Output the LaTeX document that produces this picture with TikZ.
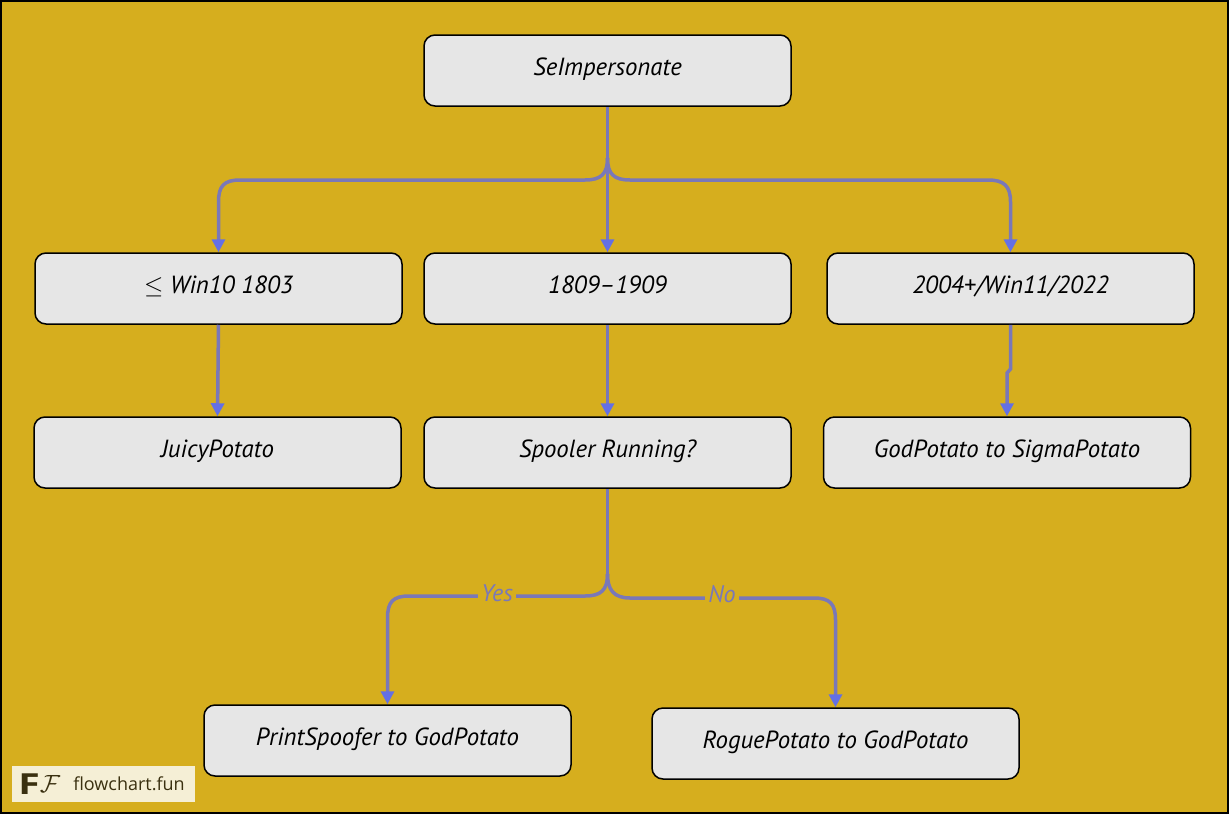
\documentclass[tikz,border=0pt]{standalone}
\usepackage{fontspec}
\usepackage{amsmath}
\setmainfont{PT Sans}
\newfontfamily\logofont{Open Sans}
\usetikzlibrary{arrows.meta}
\definecolor{bgyellow}{HTML}{D6AE1E}
\definecolor{boxgrey}{HTML}{E6E6E6}
\definecolor{edgeblue}{HTML}{7A78B8}
\definecolor{tipblue}{HTML}{6470E4}
\definecolor{logocream}{HTML}{F5EFD6}
\definecolor{logoink}{HTML}{3A3010}
\tikzset{
  box/.style={draw=black,line width=1.5pt,fill=boxgrey,rounded corners=11pt,minimum width=367pt,minimum height=71pt,inner sep=0pt,text height=16.5pt,text depth=7.5pt,font=\fontsize{24.8}{28}\selectfont\itshape},
  edge/.style={draw=edgeblue,line width=3.5pt,-{Triangle[width=13pt,length=13pt,color=tipblue]}},
  plainedge/.style={draw=edgeblue,line width=3.5pt},
  edgelabel/.style={fill=bgyellow,text=edgeblue,inner sep=3pt,font=\fontsize{24}{26}\selectfont\itshape}
}
\begin{document}
\begin{tikzpicture}[x=1pt,y=-1pt]
        \useasboundingbox (0,0) rectangle (1229,814);
        \draw[black,line width=2.5pt,fill=bgyellow] (1,1) rectangle (1228,813);
        \node[box] (root) at (607.5,70.5) {SeImpersonate};
        \node[box] (low) at (218.5,288.5) {$\leq$ Win10 1803};
        \node[box] (mid) at (607.5,288.5) {1809--1909};
        \node[box] (high) at (1010.5,288.5) {2004+/Win11/2022};
        \node[box] (juicy) at (217.5,452.5) {JuicyPotato};
        \node[box] (spooler) at (607.5,452.5) {Spooler Running?};
        \node[box] (god) at (1007,452.5) {GodPotato to SigmaPotato};
        \node[box] (print) at (387.5,740.5) {PrintSpoofer to GodPotato};
        \node[box] (rogue) at (835.5,743.5) {RoguePotato to GodPotato};
        \node[fill=logocream,minimum width=183pt,minimum height=36pt,inner sep=0pt] (logo) at (103.5,784) {};
        \node[text=logoink,inner sep=0pt,xscale=1.35,font=\fontsize{29}{30}\selectfont\bfseries\logofont] (logof) at (29,784) {F};
        \node[text=logoink,inner sep=0pt,font=\fontsize{31}{32}\selectfont] (logoscript) at (50,784) {$\mathcal{F}$};
        \node[text=logoink,inner sep=0pt,font=\fontsize{18}{22}\selectfont\logofont] (logotext) at (129,784) {flowchart.fun};
        \coordinate (forka) at (607.5,158);
        \coordinate (lefta) at (585,180);
        \coordinate (leftb) at (240,180);
        \coordinate (leftc) at (218.5,202);
        \coordinate (righta) at (630,180);
        \coordinate (rightb) at (988,180);
        \coordinate (rightc) at (1010.5,202);
        \coordinate (forkb) at (607.5,574);
        \coordinate (yesa) at (585,596);
        \coordinate (yesb) at (409,596);
        \coordinate (yesc) at (387.5,618);
        \coordinate (noa) at (630,598);
        \coordinate (nob) at (814,598);
        \coordinate (noc) at (835.5,620);
        \coordinate (higha) at (1010.5,369);
        \coordinate (highb) at (1007,373);
        \draw[plainedge] (root.south) -- (forka);
        \draw[edge] (forka) -- (mid.north);
        \draw[edge] (forka) .. controls +(0,16) and +(16,0) .. (lefta) -- (leftb) .. controls +(-16,0) and +(0,-16) .. (leftc) -- (low.north);
        \draw[edge] (forka) .. controls +(0,16) and +(-16,0) .. (righta) -- (rightb) .. controls +(16,0) and +(0,-16) .. (rightc) -- (high.north -| rightc);
        \draw[edge] (low.south) -- (juicy.north);
        \draw[edge] (mid.south) -- (spooler.north);
        \draw[edge] (high.south) -- (higha) -- (highb) -- (god.north);
        \draw[plainedge] (spooler.south) -- (forkb);
        \draw[edge] (forkb) .. controls +(0,16) and +(16,0) .. (yesa) -- (yesb) node [midway, yshift=2.5pt, edgelabel] (yes) {Yes} .. controls +(-16,0) and +(0,-16) .. (yesc) -- (print.north);
        \draw[edge] (forkb) .. controls +(0,16) and +(-16,0) .. (noa) -- (nob) node [midway, yshift=4pt, edgelabel] (no) {No} .. controls +(16,0) and +(0,-16) .. (noc) -- (rogue.north);
    \end{tikzpicture}
\end{document}
